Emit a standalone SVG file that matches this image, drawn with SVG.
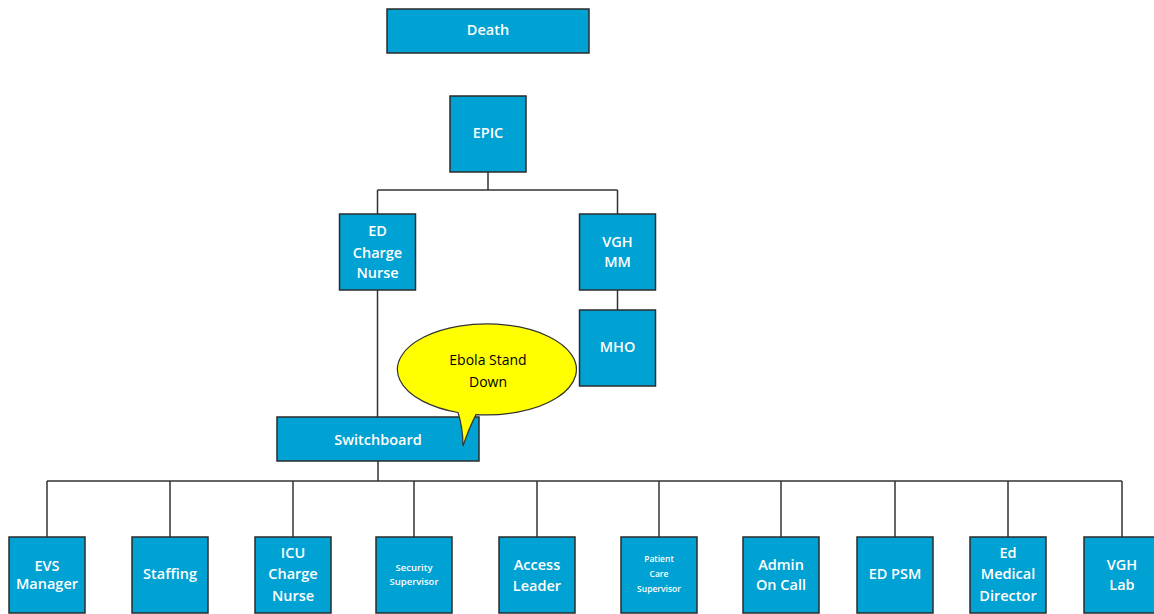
<svg xmlns="http://www.w3.org/2000/svg" width="1154" height="614" viewBox="0 0 1154 614">
<style>
.box{fill:#00A1D3;stroke:#2b2b2b;stroke-width:1.5}
.t{fill:#ffffff;font-family:"Open Sans","Liberation Sans",sans-serif;font-weight:600;font-size:14.5px;text-anchor:middle}
.s{font-size:9.5px}
.xs{font-size:8.5px}
.c{fill:none;stroke:#333333;stroke-width:1.5}
.b{fill:#FFFF00;stroke:#333333;stroke-width:1.2}
.bt{fill:#000000;font-family:"Open Sans","Liberation Sans",sans-serif;font-size:14px;text-anchor:middle}
</style>
<rect width="1154" height="614" fill="#ffffff"/>
<g id="connectors">
<path class="c" d="M488,172V190M377.5,190H617.5M377.5,190V214M617.5,190V214M617.5,290V310M377.5,290V417M378,461V481M47,481H1122M47,481V537M170,481V537M293,481V537M414,481V537M537,481V537M659,481V537M781,481V537M895,481V537M1008,481V537M1122,481V537"/>
</g>
<g id="death"><rect class="box" x="387" y="9" width="202" height="44"/><text class="t" x="488" y="35">Death</text></g>
<g id="epic"><rect class="box" x="450" y="96" width="76" height="76"/><text class="t" x="488" y="138">EPIC</text></g>
<g id="ed-charge-nurse"><rect class="box" x="339.5" y="214" width="76" height="76"/><text class="t" x="377.5" y="236">ED</text><text class="t" x="377.5" y="258">Charge</text><text class="t" x="377.5" y="278">Nurse</text></g>
<g id="vgh-mm"><rect class="box" x="579.5" y="214" width="76" height="76"/><text class="t" x="617.5" y="247">VGH</text><text class="t" x="617.5" y="267">MM</text></g>
<g id="mho"><rect class="box" x="579.5" y="310" width="76" height="76"/><text class="t" x="617.5" y="352">MHO</text></g>
<g id="switchboard"><rect class="box" x="277" y="417" width="202" height="44"/><text class="t" x="378" y="445">Switchboard</text></g>
<g id="callout"><path class="b" d="M458,412.5 A89.5,45.5 0 1 1 476,414.6 Q469,428 463,446 Q463,428 458,412.5 Z"/><text class="bt" x="488" y="365">Ebola Stand</text><text class="bt" x="488" y="387">Down</text></g>
<g id="evs-manager"><rect class="box" x="9" y="537" width="76" height="76"/><text class="t" x="47" y="571">EVS</text><text class="t" x="47" y="589">Manager</text></g>
<g id="staffing"><rect class="box" x="132" y="537" width="76" height="76"/><text class="t" x="170" y="579">Staffing</text></g>
<g id="icu-charge-nurse"><rect class="box" x="255" y="537" width="76" height="76"/><text class="t" x="293" y="558">ICU</text><text class="t" x="293" y="579">Charge</text><text class="t" x="293" y="601">Nurse</text></g>
<g id="security-supervisor"><rect class="box" x="376" y="537" width="76" height="76"/><text class="t s" x="414" y="571">Security</text><text class="t s" x="414" y="585">Supervisor</text></g>
<g id="access-leader"><rect class="box" x="499" y="537" width="76" height="76"/><text class="t" x="537" y="570">Access</text><text class="t" x="537" y="591">Leader</text></g>
<g id="patient-care-supervisor"><rect class="box" x="621" y="537" width="76" height="76"/><text class="t xs" x="659" y="562">Patient</text><text class="t xs" x="659" y="577">Care</text><text class="t xs" x="659" y="592">Supervisor</text></g>
<g id="admin-on-call"><rect class="box" x="743" y="537" width="76" height="76"/><text class="t" x="781" y="570">Admin</text><text class="t" x="781" y="590">On Call</text></g>
<g id="ed-psm"><rect class="box" x="857" y="537" width="76" height="76"/><text class="t" x="895" y="579">ED PSM</text></g>
<g id="ed-medical-director"><rect class="box" x="970" y="537" width="76" height="76"/><text class="t" x="1008" y="558">Ed</text><text class="t" x="1008" y="579">Medical</text><text class="t" x="1008" y="601">Director</text></g>
<g id="vgh-lab"><rect class="box" x="1084" y="537" width="76" height="76"/><text class="t" x="1122" y="570">VGH</text><text class="t" x="1122" y="590">Lab</text></g>
</svg>
